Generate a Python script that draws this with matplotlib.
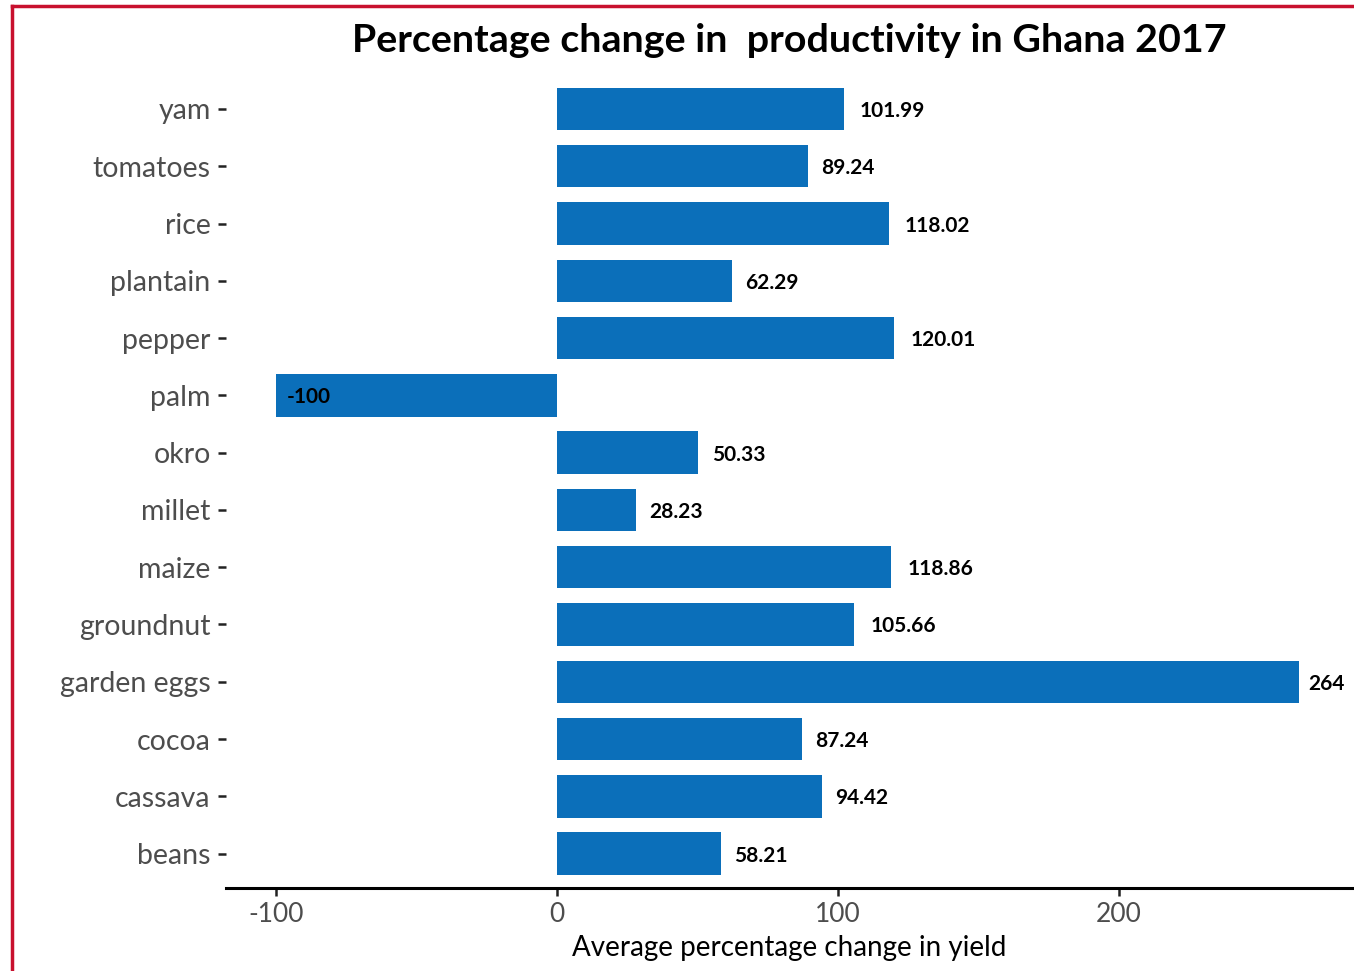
import matplotlib

matplotlib.use("Agg")
import matplotlib.pyplot as plt
from matplotlib.lines import Line2D
from matplotlib.transforms import ScaledTranslation

crops = ["beans", "cassava", "cocoa", "garden eggs", "groundnut", "maize", "millet",
         "okro", "palm", "pepper", "plantain", "rice", "tomatoes", "yam"]
pct_change = [58.21, 94.42, 87.24, 264, 105.66, 118.86, 28.23,
              50.33, -100, 120.01, 62.29, 118.02, 89.24, 101.99]
value_labels = ["58.21", "94.42", "87.24", "264", "105.66", "118.86", "28.23",
                "50.33", "-100", "120.01", "62.29", "118.02", "89.24", "101.99"]
x_ticks = [-100, 0, 100, 200]

BAR = "#0B6FBA"
FRAME = "#C8102E"
plt.rcParams["font.family"] = ["Lato", "DejaVu Sans"]

fig = plt.figure(figsize=(13.54, 9.71), dpi=100)
ax = fig.add_axes([0.1669, 0.0855, 0.8316, 0.8377])

ypos = list(range(len(crops)))
ax.barh(ypos, pct_change, height=0.74, color=BAR)

ax.set_xlim(-117.8, 282.9)
ax.set_ylim(-0.6, len(crops) - 0.4)
ax.set_yticks(ypos)
ax.set_yticklabels(crops)
ax.set_xticks(x_ticks)
ax.set_xticklabels([str(t) for t in x_ticks])

for side in ("top", "right", "left"):
    ax.spines[side].set_visible(False)
ax.spines["bottom"].set_linewidth(2.2)
ax.spines["bottom"].set_color("black")
ax.tick_params(axis="y", length=6, width=1.8, color="#222222", pad=5,
               labelsize=20.5, labelcolor="#4d4d4d")
ax.tick_params(axis="x", length=6, width=1.8, color="#222222", pad=4,
               labelsize=19, labelcolor="#4d4d4d")

ax.set_xlabel("Average percentage change in yield", fontsize=20, color="black", labelpad=6)
ax.set_title("Percentage change in  productivity in Ghana 2017", fontsize=28.4,
             fontweight="bold", color="black", pad=16)

# value labels sit a quarter of their own width past the bar end
fig.canvas.draw()
renderer = fig.canvas.get_renderer()
for y, v, lab in zip(ypos, pct_change, value_labels):
    t = ax.text(v, y, lab, ha="left", va="center", fontsize=15,
                fontweight="bold", color="black")
    w = t.get_window_extent(renderer).width
    t.set_transform(ax.transData + ScaledTranslation(
        0.25 * w / fig.dpi, -2 / fig.dpi, fig.dpi_scale_trans))

# red frame along left and top edges
fig.add_artist(Line2D([12 / 1354, 12 / 1354], [0, 1 - 6 / 971], color=FRAME, lw=2.5,
                      transform=fig.transFigure))
fig.add_artist(Line2D([12 / 1354, 1], [1 - 6 / 971, 1 - 6 / 971], color=FRAME, lw=2.5,
                      transform=fig.transFigure))

fig.savefig("out.png", dpi=100, facecolor="white")
